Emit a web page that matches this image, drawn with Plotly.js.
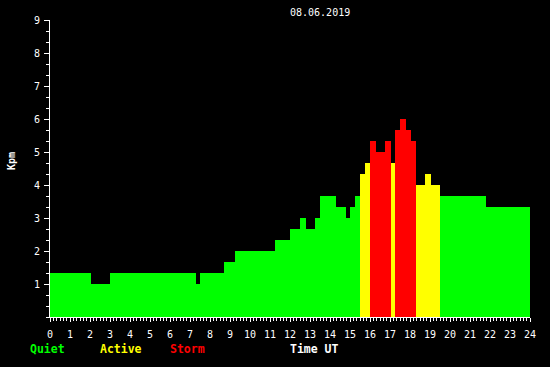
<!DOCTYPE html>
<html>
<head>
<meta charset="utf-8">
<script src="https://cdn.plot.ly/plotly-3.0.1.min.js"></script>
<style>
html,body{margin:0;padding:0;background:#000;}
#chart{width:550px;height:367px;}
</style>
</head>
<body>
<div id="chart"></div>
<script>
// Segment start times (UT hours) and Kpm values
const segStart = [0.0, 2.05, 3.0, 7.3, 7.5, 8.72, 9.25, 11.25, 12.0, 12.5, 12.8, 13.25, 13.5, 14.3, 14.8, 15.0, 15.25, 15.5, 15.75, 16.0, 16.3, 16.75, 17.05, 17.25, 17.5, 17.8, 18.05, 18.28, 18.75, 19.05, 19.5, 21.8];
const segEnd   = [2.05, 3.0, 7.3, 7.5, 8.72, 9.25, 11.25, 12.0, 12.5, 12.8, 13.25, 13.5, 14.3, 14.8, 15.0, 15.25, 15.5, 15.75, 16.0, 16.3, 16.75, 17.05, 17.25, 17.5, 17.8, 18.05, 18.28, 18.75, 19.05, 19.5, 21.8, 24.0];
const kpm      = [1.33, 1.0, 1.33, 1.0, 1.33, 1.67, 2.0, 2.33, 2.67, 3.0, 2.67, 3.0, 3.67, 3.33, 3.0, 3.33, 3.67, 4.33, 4.67, 5.33, 5.0, 5.33, 4.67, 5.67, 6.0, 5.67, 5.33, 4.0, 4.33, 4.0, 3.67, 3.33];
const xTickLabels = ['0','1','2','3','4','5','6','7','8','9','10','11','12','13','14','15','16','17','18','19','20','21','22','23','24'];
const yTickLabels = ['1','2','3','4','5','6','7','8','9'];
const titleText = '08.06.2019';
const legendLabels = ['Quiet','Active','Storm'];

const GREEN = '#00ff00', YELLOW = '#ffff00', RED = '#ff0000';
const colors = kpm.map(v => v >= 5 ? RED : (v >= 4 ? YELLOW : GREEN));
const widths = segStart.map((s, i) => segEnd[i] - s);

const mono = 'DejaVu Sans Mono, monospace';

const trace = {
  type: 'bar',
  x: segStart,
  y: kpm,
  width: widths,
  offset: 0,
  marker: {color: colors, line: {width: 0}},
  hoverinfo: 'skip'
};

const px = v => (v - 50) / 480;
const py = v => (317 - v) / 297;

const layout = {
  width: 550, height: 367,
  margin: {l: 50, r: 20, t: 20, b: 50, pad: 0},
  paper_bgcolor: '#000', plot_bgcolor: '#000',
  showlegend: false,
  bargap: 0,
  xaxis: {
    range: [0, 24], fixedrange: true,
    tickvals: xTickLabels.map(Number), ticktext: xTickLabels,
    ticks: 'outside', ticklen: 4, tickwidth: 1, tickcolor: '#fff',
    ticklabelstandoff: 4,
    showline: true, linecolor: '#fff', linewidth: 1,
    showgrid: false, zeroline: false,
    tickfont: {family: mono, size: 10, color: '#fff'},
    minor: {dtick: 1/6, tick0: 0, ticks: 'outside', ticklen: 3, tickwidth: 1, tickcolor: '#fff', showgrid: false}
  },
  yaxis: {
    range: [0, 9], fixedrange: true,
    tickvals: yTickLabels.map(Number), ticktext: yTickLabels,
    ticks: 'outside', ticklen: 5, tickwidth: 1, tickcolor: '#fff',
    ticklabelstandoff: 2,
    showline: true, linecolor: '#fff', linewidth: 1, layer: 'below traces',
    showgrid: false, zeroline: false,
    tickfont: {family: mono, size: 10, color: '#fff'},
    minor: {dtick: 1/3, tick0: 0, ticks: 'outside', ticklen: 3, tickwidth: 1, tickcolor: '#fff', showgrid: false}
  },
  annotations: [
    {text: titleText, xref: 'paper', yref: 'paper', x: px(320), y: py(12.5), xanchor: 'center', yanchor: 'middle', showarrow: false,
     font: {family: mono, size: 10, color: '#fff'}},
    {text: '<b>Kpm</b>', xref: 'paper', yref: 'paper', x: px(12), y: py(161), xanchor: 'center', yanchor: 'middle', showarrow: false, textangle: -90,
     font: {family: mono, size: 10, color: '#fff'}},
    {text: '<b>' + legendLabels[0] + '</b>', xref: 'paper', yref: 'paper', x: px(47), y: py(348.5), xanchor: 'center', yanchor: 'middle', showarrow: false,
     font: {family: mono, size: 11.5, color: GREEN}},
    {text: '<b>' + legendLabels[1] + '</b>', xref: 'paper', yref: 'paper', x: px(120.7), y: py(348.5), xanchor: 'center', yanchor: 'middle', showarrow: false,
     font: {family: mono, size: 11.5, color: YELLOW}},
    {text: '<b>' + legendLabels[2] + '</b>', xref: 'paper', yref: 'paper', x: px(187), y: py(348.5), xanchor: 'center', yanchor: 'middle', showarrow: false,
     font: {family: mono, size: 11.5, color: RED}},
    {text: '<b>Time UT</b>', xref: 'paper', yref: 'paper', x: px(314), y: py(348.5), xanchor: 'center', yanchor: 'middle', showarrow: false,
     font: {family: mono, size: 11.5, color: '#fff'}}
  ]
};

Plotly.newPlot('chart', [trace], layout, {displayModeBar: false, staticPlot: true});
</script>
</body>
</html>
